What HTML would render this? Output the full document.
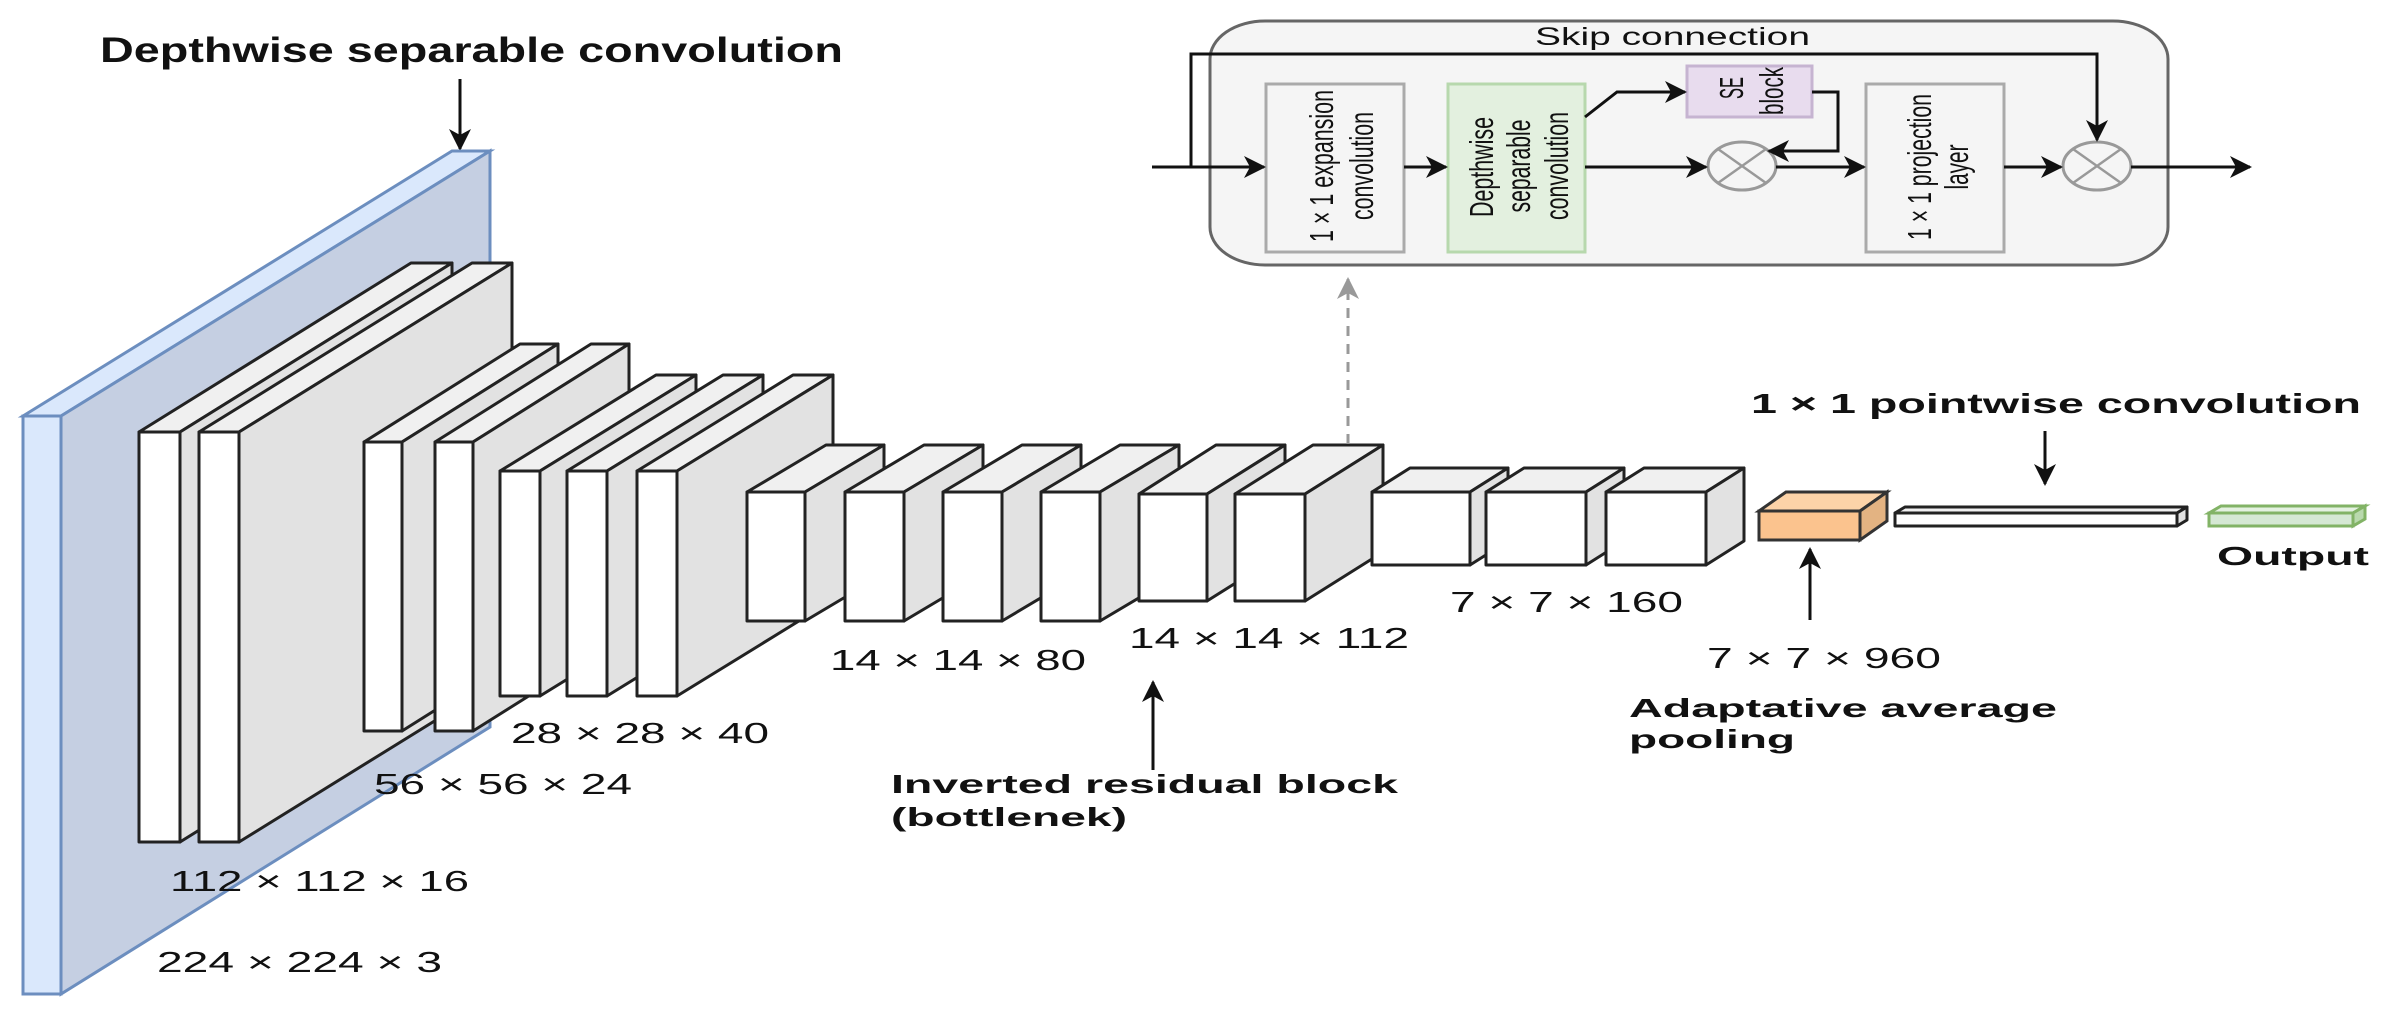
<!DOCTYPE html>
<html><head><meta charset="utf-8"><style>
html,body{margin:0;padding:0;background:#fff;}
svg{display:block;}
text{font-family:"Liberation Sans",Arial,sans-serif;fill:#111;}
.b{font-weight:bold;}
.fr{fill:#fff;stroke:#222;stroke-width:3;stroke-linejoin:round;}
.tp{fill:#f0f0f0;stroke:#222;stroke-width:3;stroke-linejoin:round;}
.sd{fill:#e2e2e2;stroke:#222;stroke-width:3;stroke-linejoin:round;}
.ln{stroke:#111;stroke-width:3;fill:none;}
</style></head><body>
<svg width="2403" height="1014" viewBox="0 0 2403 1014" xmlns="http://www.w3.org/2000/svg">
<defs>
<marker id="ah" markerUnits="userSpaceOnUse" markerWidth="24" markerHeight="22" refX="20" refY="11" orient="auto"><path d="M0,0 L22,11 L0,22 L6,11 Z" fill="#111"/></marker>
<marker id="ag" markerUnits="userSpaceOnUse" markerWidth="24" markerHeight="22" refX="20" refY="11" orient="auto"><path d="M0,0 L22,11 L0,22 L6,11 Z" fill="#999"/></marker>
</defs>

<text class="b" x="100" y="62" font-size="35" textLength="743" lengthAdjust="spacingAndGlyphs">Depthwise separable convolution</text>
<line class="ln" x1="460" y1="79" x2="460" y2="149" marker-end="url(#ah)"/>

<polygon points="23,416 452,151 490,151 61,416" fill="#dae8fc" stroke="#6c8ebf" stroke-width="3"/>
<polygon points="61,416 490,151 490,727 61,994" fill="#c5cfe2" stroke="#6c8ebf" stroke-width="3"/>
<rect x="23" y="416" width="38" height="578" fill="#dae8fc" stroke="#6c8ebf" stroke-width="3"/>

<polygon class="tp" points="139,432 411,263 452,263 180,432"/>
<polygon class="sd" points="180,432 452,263 452,673 180,842"/>
<rect class="fr" x="139" y="432" width="41" height="410"/>
<polygon class="tp" points="199,432 472,263 512,263 239,432"/>
<polygon class="sd" points="239,432 512,263 512,673 239,842"/>
<rect class="fr" x="199" y="432" width="40" height="410"/>
<polygon class="tp" points="364,442 520,344 558,344 402,442"/>
<polygon class="sd" points="402,442 558,344 558,633 402,731"/>
<rect class="fr" x="364" y="442" width="38" height="289"/>
<polygon class="tp" points="435,442 591,344 629,344 473,442"/>
<polygon class="sd" points="473,442 629,344 629,633 473,731"/>
<rect class="fr" x="435" y="442" width="38" height="289"/>
<polygon class="tp" points="500,471 656,375 696,375 540,471"/>
<polygon class="sd" points="540,471 696,375 696,600 540,696"/>
<rect class="fr" x="500" y="471" width="40" height="225"/>
<polygon class="tp" points="567,471 723,375 763,375 607,471"/>
<polygon class="sd" points="607,471 763,375 763,600 607,696"/>
<rect class="fr" x="567" y="471" width="40" height="225"/>
<polygon class="tp" points="637,471 793,375 833,375 677,471"/>
<polygon class="sd" points="677,471 833,375 833,600 677,696"/>
<rect class="fr" x="637" y="471" width="40" height="225"/>
<polygon class="tp" points="747,492 826,445 884,445 805,492"/>
<polygon class="sd" points="805,492 884,445 884,574 805,621"/>
<rect class="fr" x="747" y="492" width="58" height="129"/>
<polygon class="tp" points="845,492 924,445 983,445 904,492"/>
<polygon class="sd" points="904,492 983,445 983,574 904,621"/>
<rect class="fr" x="845" y="492" width="59" height="129"/>
<polygon class="tp" points="943,492 1022,445 1081,445 1002,492"/>
<polygon class="sd" points="1002,492 1081,445 1081,574 1002,621"/>
<rect class="fr" x="943" y="492" width="59" height="129"/>
<polygon class="tp" points="1041,492 1120,445 1179,445 1100,492"/>
<polygon class="sd" points="1100,492 1179,445 1179,574 1100,621"/>
<rect class="fr" x="1041" y="492" width="59" height="129"/>
<polygon class="tp" points="1139,494 1216,445 1285,445 1207,494"/>
<polygon class="sd" points="1207,494 1285,445 1285,552 1207,601"/>
<rect class="fr" x="1139" y="494" width="68" height="107"/>
<polygon class="tp" points="1235,494 1313,445 1383,445 1305,494"/>
<polygon class="sd" points="1305,494 1383,445 1383,552 1305,601"/>
<rect class="fr" x="1235" y="494" width="70" height="107"/>
<polygon class="tp" points="1372,492 1410,468 1508,468 1470,492"/>
<polygon class="sd" points="1470,492 1508,468 1508,541 1470,565"/>
<rect class="fr" x="1372" y="492" width="98" height="73"/>
<polygon class="tp" points="1486,492 1524,468 1624,468 1586,492"/>
<polygon class="sd" points="1586,492 1624,468 1624,541 1586,565"/>
<rect class="fr" x="1486" y="492" width="100" height="73"/>
<polygon class="tp" points="1606,492 1644,468 1744,468 1706,492"/>
<polygon class="sd" points="1706,492 1744,468 1744,541 1706,565"/>
<rect class="fr" x="1606" y="492" width="100" height="73"/>
<polygon points="1759,511 1786,492 1887,492 1860,511" fill="#fcd3a8" stroke="#333" stroke-width="3"/>
<polygon points="1860,511 1887,492 1887,521 1860,540" fill="#e3b382" stroke="#333" stroke-width="3"/>
<rect x="1759" y="511" width="101" height="29" fill="#fbc38e" stroke="#333" stroke-width="3"/>
<polygon class="tp" points="1895,513 1905,507 2187,507 2177,513"/>
<polygon class="sd" points="2177,513 2187,507 2187,520 2177,526"/>
<rect class="fr" x="1895" y="513" width="282" height="13"/>
<polygon points="2209,513 2221,506 2365,506 2353,513" fill="#e4f1e1" stroke="#82b366" stroke-width="3"/>
<polygon points="2353,513 2365,506 2365,519 2353,526" fill="#b9d9ad" stroke="#82b366" stroke-width="3"/>
<rect x="2209" y="513" width="144" height="13" fill="#d5e8d4" stroke="#82b366" stroke-width="3"/>

<line x1="1348" y1="444" x2="1348" y2="279" stroke="#999" stroke-width="3" stroke-dasharray="10,8" marker-end="url(#ag)"/>

<rect x="1210" y="21" width="958" height="244" rx="55" ry="38" fill="#f5f5f5" stroke="#666" stroke-width="3"/>
<text x="1535" y="45" font-size="25" textLength="275" lengthAdjust="spacingAndGlyphs">Skip connection</text>
<rect x="1266" y="84" width="138" height="168" fill="#f5f5f5" stroke="#aaa" stroke-width="3"/>
<rect x="1448" y="84" width="137" height="168" fill="#e3f0df" stroke="#b7d8ad" stroke-width="3"/>
<rect x="1687" y="66" width="125" height="51" fill="#e8dcee" stroke="#c6b4d1" stroke-width="3"/>
<rect x="1866" y="84" width="138" height="168" fill="#f5f5f5" stroke="#aaa" stroke-width="3"/>
<g font-size="25" text-anchor="middle">
<text transform="translate(1322,166) rotate(-90) scale(1,1.35)" dominant-baseline="central" textLength="152" lengthAdjust="spacingAndGlyphs">1 × 1 expansion</text>
<text transform="translate(1362,166) rotate(-90) scale(1,1.35)" dominant-baseline="central" textLength="108" lengthAdjust="spacingAndGlyphs">convolution</text>
<text transform="translate(1482,167) rotate(-90) scale(1,1.35)" dominant-baseline="central" textLength="100" lengthAdjust="spacingAndGlyphs">Depthwise</text>
<text transform="translate(1519,166) rotate(-90) scale(1,1.35)" dominant-baseline="central" textLength="93" lengthAdjust="spacingAndGlyphs">separable</text>
<text transform="translate(1557,166) rotate(-90) scale(1,1.35)" dominant-baseline="central" textLength="108" lengthAdjust="spacingAndGlyphs">convolution</text>
<text transform="translate(1732,88) rotate(-90) scale(1,1.35)" dominant-baseline="central" textLength="22" lengthAdjust="spacingAndGlyphs">SE</text>
<text transform="translate(1772,91) rotate(-90) scale(1,1.35)" dominant-baseline="central" textLength="48" lengthAdjust="spacingAndGlyphs">block</text>
<text transform="translate(1920,167) rotate(-90) scale(1,1.35)" dominant-baseline="central" textLength="146" lengthAdjust="spacingAndGlyphs">1 × 1 projection</text>
<text transform="translate(1957,167) rotate(-90) scale(1,1.35)" dominant-baseline="central" textLength="45" lengthAdjust="spacingAndGlyphs">layer</text>
</g>
<ellipse cx="1742" cy="166" rx="34" ry="24" fill="#f5f5f5" stroke="#999" stroke-width="3"/>
<line x1="1718" y1="149" x2="1766" y2="183" stroke="#999" stroke-width="2.5"/>
<line x1="1718" y1="183" x2="1766" y2="149" stroke="#999" stroke-width="2.5"/>
<ellipse cx="2097" cy="166" rx="34" ry="24" fill="#f5f5f5" stroke="#999" stroke-width="3"/>
<line x1="2073" y1="149" x2="2121" y2="183" stroke="#999" stroke-width="2.5"/>
<line x1="2073" y1="183" x2="2121" y2="149" stroke="#999" stroke-width="2.5"/>
<line class="ln" x1="1152" y1="167" x2="1264" y2="167" marker-end="url(#ah)"/>
<polyline class="ln" points="1191,167 1191,54 2097,54 2097,140" marker-end="url(#ah)"/>
<line class="ln" x1="1404" y1="167" x2="1446" y2="167" marker-end="url(#ah)"/>
<line class="ln" x1="1585" y1="167" x2="1706" y2="167" marker-end="url(#ah)"/>
<polyline class="ln" points="1585,117 1617,92 1685,92" marker-end="url(#ah)"/>
<polyline class="ln" points="1812,92 1838,92 1838,151 1769,151" marker-end="url(#ah)"/>
<line class="ln" x1="1776" y1="167" x2="1864" y2="167" marker-end="url(#ah)"/>
<line class="ln" x1="2004" y1="167" x2="2061" y2="167" marker-end="url(#ah)"/>
<line class="ln" x1="2131" y1="167" x2="2250" y2="167" marker-end="url(#ah)"/>

<text class="b" x="1751" y="413" font-size="28" textLength="610" lengthAdjust="spacingAndGlyphs">1 × 1 pointwise convolution</text>
<line class="ln" x1="2045" y1="431" x2="2045" y2="484" marker-end="url(#ah)"/>
<text class="b" x="2217" y="565" font-size="26" textLength="152" lengthAdjust="spacingAndGlyphs">Output</text>

<g font-size="29">
<text x="511" y="743" textLength="258" lengthAdjust="spacingAndGlyphs">28 × 28 × 40</text>
<text x="374" y="794" textLength="258" lengthAdjust="spacingAndGlyphs">56 × 56 × 24</text>
<text x="170" y="891" textLength="299" lengthAdjust="spacingAndGlyphs">112 × 112 × 16</text>
<text x="157" y="972" textLength="285" lengthAdjust="spacingAndGlyphs">224 × 224 × 3</text>
<text x="830" y="670" textLength="256" lengthAdjust="spacingAndGlyphs">14 × 14 × 80</text>
<text x="1129" y="648" textLength="280" lengthAdjust="spacingAndGlyphs">14 × 14 × 112</text>
<text x="1450" y="612" textLength="233" lengthAdjust="spacingAndGlyphs">7 × 7 × 160</text>
<text x="1707" y="668" textLength="234" lengthAdjust="spacingAndGlyphs">7 × 7 × 960</text>
</g>
<line class="ln" x1="1153" y1="770" x2="1153" y2="682" marker-end="url(#ah)"/>
<line class="ln" x1="1810" y1="620" x2="1810" y2="549" marker-end="url(#ah)"/>
<g font-size="26">
<text class="b" x="891" y="793" textLength="507" lengthAdjust="spacingAndGlyphs">Inverted residual block</text>
<text class="b" x="891" y="826" textLength="236" lengthAdjust="spacingAndGlyphs">(bottlenek)</text>
<text class="b" x="1629" y="717" textLength="428" lengthAdjust="spacingAndGlyphs">Adaptative average</text>
<text class="b" x="1629" y="748" textLength="166" lengthAdjust="spacingAndGlyphs">pooling</text>
</g>
</svg>
</body></html>
